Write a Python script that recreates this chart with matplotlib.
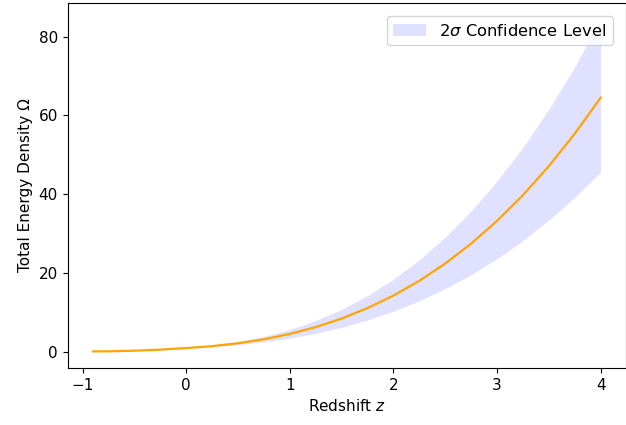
import matplotlib
matplotlib.use('Agg')
import matplotlib.pyplot as plt
import numpy as np

# redshift grid and total energy density (best fit + 2 sigma bounds)
z = [-0.9, -0.75, -0.5, -0.25, 0.0, 0.25, 0.5, 0.75, 1.0, 1.25, 1.5,
     1.75, 2.0, 2.25, 2.5, 2.75, 3.0, 3.25, 3.5, 3.75, 4.0]
omega = [0.15, 0.18, 0.33, 0.6, 1.0, 1.49, 2.22, 3.23, 4.58, 6.32, 8.49,
         11.14, 14.31, 18.06, 22.44, 27.49, 33.26, 39.79, 47.14, 55.36, 64.49]
omega_hi = [0.16, 0.19, 0.35, 0.63, 1.05, 1.64, 2.60, 3.93, 5.70, 7.98, 10.83,
            14.30, 18.47, 23.40, 29.14, 35.77, 43.34, 51.91, 61.56, 72.35, 84.33]
omega_lo = [0.14, 0.17, 0.31, 0.57, 0.95, 1.34, 1.86, 2.57, 3.52, 4.74, 6.27,
            8.13, 10.36, 13.00, 16.08, 19.62, 23.68, 28.28, 33.45, 39.22, 45.64]

plt.rcParams['font.size'] = 11

fig, ax = plt.subplots(figsize=(6.26, 4.25), dpi=100)
fig.subplots_adjust(left=0.108, right=1.0, top=0.993, bottom=0.134)

ax.fill_between(z, omega_lo, omega_hi, color='blue', alpha=0.12, lw=0,
                label=r'$2\sigma$ Confidence Level')
ax.plot(z, omega, color='orange', lw=1.6)

ax.set_xlabel('Redshift $z$')
ax.set_ylabel('Total Energy Density Ω')
ax.legend(loc='upper right', fontsize=11.8, borderaxespad=0.8)

plt.savefig('out.png')
